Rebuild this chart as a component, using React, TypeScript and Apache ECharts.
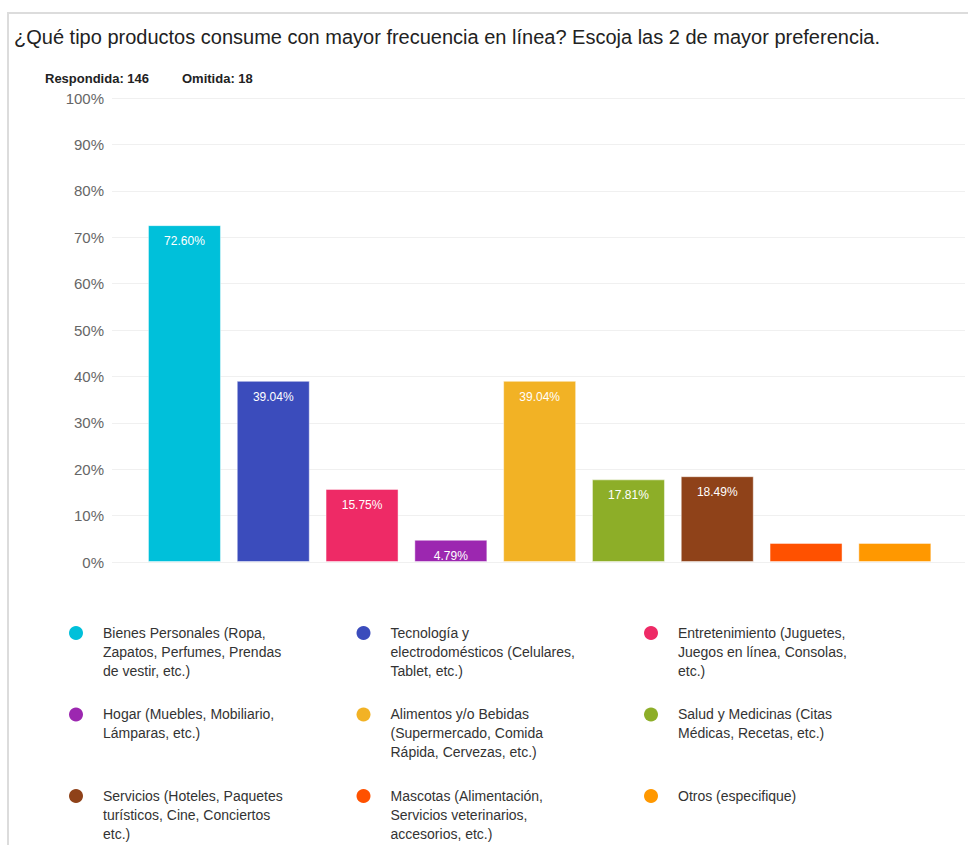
import React, { useEffect, useRef } from "react";
import * as echarts from "echarts";

const title = "¿Qué tipo productos consume con mayor frecuencia en línea? Escoja las 2 de mayor preferencia.";
const summary = ["Respondida: 146", "Omitida: 18"];
const categories = [
  "Bienes Personales (Ropa,\nZapatos, Perfumes, Prendas\nde vestir, etc.)",
  "Tecnología y\nelectrodomésticos (Celulares,\nTablet, etc.)",
  "Entretenimiento (Juguetes,\nJuegos en línea, Consolas,\netc.)",
  "Hogar (Muebles, Mobiliario,\nLámparas, etc.)",
  "Alimentos y/o Bebidas\n(Supermercado, Comida\nRápida, Cervezas, etc.)",
  "Salud y Medicinas (Citas\nMédicas, Recetas, etc.)",
  "Servicios (Hoteles, Paquetes\nturísticos, Cine, Conciertos\netc.)",
  "Mascotas (Alimentación,\nServicios veterinarios,\naccesorios, etc.)",
  "Otros (especifique)",
];
const values = [72.6, 39.04, 15.75, 4.79, 39.04, 17.81, 18.49, 4.11, 4.11];
const showLabel = [true, true, true, true, true, true, true, false, false];
const colors = ["#00c0da", "#3b4cbc", "#ee2a66", "#9c27b0", "#f2b225", "#8dae28", "#8f4219", "#ff5100", "#ff9800"];
const yTicks = [0, 10, 20, 30, 40, 50, 60, 70, 80, 90, 100];

export default function App() {
  const ref = useRef<HTMLDivElement>(null);
  useEffect(() => {
    if (!ref.current) return;
    const chart = echarts.init(ref.current, null, { renderer: "svg" });
    const font = "'Liberation Sans', Arial, sans-serif";
    const legendEls: any[] = categories.map((name, i) => {
      const col = i % 3;
      const row = Math.floor(i / 3);
      const cx = 76 + col * 287.5;
      const cy = 633 + row * 81.5;
      return {
        type: "group",
        children: [
          { type: "circle", shape: { cx, cy, r: 7 }, style: { fill: colors[i] } },
          {
            type: "text",
            x: cx + 27,
            y: cy - 10,
            style: { text: name, fill: "#333", font: `14px ${font}`, lineHeight: 19, textVerticalAlign: "top" },
          },
        ],
      };
    });
    chart.setOption({
      animation: false,
      backgroundColor: "#fff",
      grid: { left: 112, right: 3, top: 98, bottom: 283, containLabel: false },
      xAxis: {
        type: "value",
        min: -0.816,
        max: 8.79,
        show: false,
      },
      yAxis: {
        type: "value",
        min: 0,
        max: 100,
        interval: 10,
        axisLine: { show: false },
        axisTick: { show: false },
        splitLine: { lineStyle: { color: "#f0f0f0", width: 1 } },
        axisLabel: {
          formatter: (v: number) => (yTicks.includes(v) ? `${v}%` : ""),
          color: "#666",
          fontSize: 15,
          fontFamily: font,
          margin: 8,
        },
      },
      series: [
        {
          type: "bar",
          barWidth: 73,
          data: values.map((v, i) => ({
            value: [i, v],
            itemStyle: { color: colors[i], borderColor: "rgba(255,255,255,0.45)", borderWidth: 1 },
            label: {
              show: showLabel[i],
              position: "insideTop",
              distance: 10,
              formatter: `${v.toFixed(2)}%`,
              color: "#fff",
              fontSize: 12,
              fontFamily: font,
            },
          })),
        },
      ],
      graphic: [
        { type: "rect", shape: { x: 7, y: 12, width: 968, height: 2 }, style: { fill: "#dcdcdc" } },
        { type: "rect", shape: { x: 7, y: 12, width: 2, height: 840 }, style: { fill: "#dcdcdc" } },
        {
          type: "text",
          x: 14,
          y: 37,
          style: { text: title, fill: "#222", font: `20px ${font}`, textVerticalAlign: "middle" },
        },
        {
          type: "text",
          x: 45,
          y: 78,
          style: { text: summary[0], fill: "#222", font: `bold 13px ${font}`, textVerticalAlign: "middle" },
        },
        {
          type: "text",
          x: 182,
          y: 78,
          style: { text: summary[1], fill: "#222", font: `bold 13px ${font}`, textVerticalAlign: "middle" },
        },
        ...legendEls,
      ],
    });
    return () => chart.dispose();
  }, []);
  return <div ref={ref} style={{ position: "fixed", left: 0, top: 0, width: 968, height: 845 }} />;
}
